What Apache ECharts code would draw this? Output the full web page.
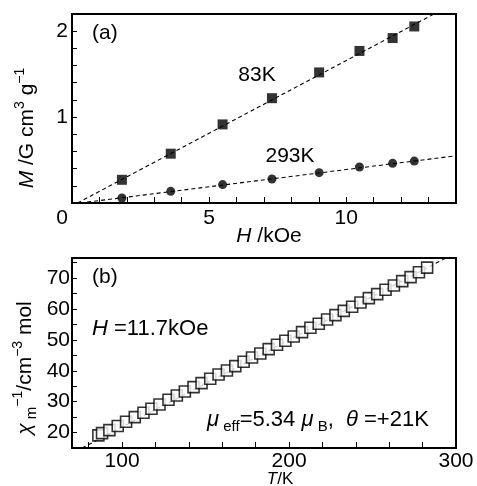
<!DOCTYPE html>
<html>
<head>
<meta charset="utf-8">
<script src="https://cdn.jsdelivr.net/npm/echarts@6/dist/echarts.min.js"></script>
<style>
  html, body { margin: 0; padding: 0; background: #fff; }
  #chart { width: 477px; height: 486px; }
</style>
</head>
<body>
<div id="chart"></div>
<script>
// ====== (a) M vs H ======
const hField = [1.82, 3.60, 5.49, 7.29, 9.01, 10.48, 11.69, 12.48]; // kOe
const m83K = [0.27, 0.574, 0.915, 1.22, 1.52, 1.77, 1.92, 2.055];
const m293K = [0.058, 0.136, 0.214, 0.279, 0.353, 0.419, 0.462, 0.488];
const fit83K = [[0.2, 0], [13.2, 2.2]];
const fit293K = [[0.3, 0], [14, 0.55]];
const hTicks = [1, 2, 3, 4, 5, 6, 7, 8, 9, 10, 11, 12, 13];
const hLabels = [0, 5, 10];
const mTicks = [0.2, 0.4, 0.6, 0.8, 1.0, 1.2, 1.4, 1.6, 1.8, 2.0];
const mLabels = [1, 2];

// ====== (b) 1/chi vs T ======
const tempK = [85.8, 88.0, 92.4, 97.4, 102.4, 107.6, 112.8, 117.6, 122.4, 127.8,
  132.8, 137.6, 142.8, 147.6, 152.8, 157.8, 162.8, 167.8, 172.8, 177.8,
  182.8, 187.8, 192.8, 197.8, 202.8, 207.8, 212.8, 217.8, 222.8, 227.8,
  232.8, 237.8, 242.8, 247.8, 252.8, 257.8, 262.8, 267.8, 272.8, 277.8, 282.7];
const invChi = [19.1, 19.8, 20.8, 22.1, 23.5, 25.0, 26.4, 27.7, 29.1, 30.6,
  32.0, 33.3, 34.7, 36.0, 37.4, 38.8, 40.1, 41.5, 42.9, 44.3,
  45.6, 47.0, 48.4, 49.7, 51.1, 52.5, 53.9, 55.2, 56.6, 58.0,
  59.4, 60.7, 62.1, 63.5, 64.8, 66.2, 67.6, 69.0, 70.3, 71.9, 73.4];
const fitChi = [[76, 15], [294, 76.5]];
const tTicks = [80, 100, 120, 140, 160, 180, 200, 220, 240, 260, 280];
const tLabels = [100, 200, 300];
const chiTicks = [20, 25, 30, 35, 40, 45, 50, 55, 60, 65, 70, 75];
const chiLabels = [20, 30, 40, 50, 60, 70];

const FONT = 'Liberation Sans, Arial, Helvetica, sans-serif';

function zip(xs, ys) {
  return xs.map(function (x, i) { return [x, ys[i]]; });
}

// rich text pieces for graphic texts (zrender style -> fill)
function richSet(size) {
  return {
    n: { fontSize: size, fontFamily: FONT, fill: '#000', lineHeight: 28 },
    i: { fontSize: size, fontFamily: FONT, fill: '#000', fontStyle: 'italic', lineHeight: 28 },
    sup: { fontSize: 14, fontFamily: FONT, fill: '#000', lineHeight: 14, verticalAlign: 'top' },
    sub: { fontSize: 15, fontFamily: FONT, fill: '#000', lineHeight: 16, verticalAlign: 'bottom' },
    sm: { fontSize: 15, fontFamily: FONT, fill: '#000', lineHeight: 18, verticalAlign: 'bottom' }
  };
}

function label(x, y, text, opts) {
  opts = opts || {};
  return {
    type: 'text',
    x: x,
    y: y,
    rotation: opts.rotation || 0,
    silent: true,
    style: {
      text: text,
      rich: richSet(opts.size || 21),
      font: (opts.size || 21) + 'px ' + FONT,
      fill: '#000',
      align: opts.align || 'left',
      verticalAlign: 'middle'
    }
  };
}

function xAxisOf(grid, min, max, ticks, labels, margin) {
  return {
    type: 'value',
    gridIndex: grid,
    min: min,
    max: max,
    axisLine: { show: false },
    splitLine: { show: false },
    axisTick: { inside: true, length: 6, customValues: ticks, lineStyle: { color: '#000', width: 1 } },
    axisLabel: {
      customValues: labels, fontSize: 21, fontFamily: FONT, color: '#000', margin: margin,
      // the origin "0" sits a little left of the corner in the original
      formatter: function (v) { return v === 0 ? '{o|0}' : String(v); },
      rich: { o: { fontSize: 21, fontFamily: FONT, color: '#000', padding: [0, 20, 0, 0] } }
    }
  };
}

function yAxisOf(grid, min, max, ticks, labels, margin) {
  return {
    type: 'value',
    gridIndex: grid,
    min: min,
    max: max,
    axisLine: { show: false },
    splitLine: { show: false },
    axisTick: { inside: true, length: 5, customValues: ticks, lineStyle: { color: '#000', width: 1 } },
    axisLabel: { customValues: labels, fontSize: 21, fontFamily: FONT, color: '#000', margin: margin }
  };
}

const dashed = { color: '#000', width: 1.1, type: [4, 3] };

const chart = echarts.init(document.getElementById('chart'));
chart.setOption({
  animation: false,
  backgroundColor: '#fff',
  grid: [
    { left: 72, top: 14, width: 384, height: 189, show: true, borderColor: '#000', borderWidth: 2, backgroundColor: 'transparent' },
    { left: 72, top: 258, width: 384, height: 190, show: true, borderColor: '#000', borderWidth: 2, backgroundColor: 'transparent' }
  ],
  xAxis: [
    xAxisOf(0, 0, 14, hTicks, hLabels, 5),
    xAxisOf(1, 70, 300, tTicks, tLabels, 3)
  ],
  yAxis: [
    yAxisOf(0, 0, 2.2, mTicks, mLabels, 4),
    yAxisOf(1, 15, 76.5, chiTicks, chiLabels, 2)
  ],
  series: [
    { type: 'line', xAxisIndex: 0, yAxisIndex: 0, data: fit83K, showSymbol: false, lineStyle: dashed, z: 1 },
    { type: 'line', xAxisIndex: 0, yAxisIndex: 0, data: fit293K, showSymbol: false, lineStyle: dashed, z: 1 },
    {
      name: '83K', type: 'scatter', xAxisIndex: 0, yAxisIndex: 0,
      data: zip(hField, m83K), symbol: 'rect', symbolSize: 10,
      itemStyle: { color: '#000' }, z: 3
    },
    {
      name: '293K', type: 'scatter', xAxisIndex: 0, yAxisIndex: 0,
      data: zip(hField, m293K), symbol: 'circle', symbolSize: 9,
      itemStyle: { color: '#000' }, z: 3
    },
    { type: 'line', xAxisIndex: 1, yAxisIndex: 1, data: fitChi, showSymbol: false, lineStyle: dashed, z: 1 },
    {
      name: 'chi', type: 'scatter', xAxisIndex: 1, yAxisIndex: 1,
      data: zip(tempK, invChi), symbol: 'rect', symbolSize: 11,
      itemStyle: { color: '#fff', borderColor: '#000', borderWidth: 1.6 }, z: 3
    }
  ],
  graphic: [
    label(92, 33, '{n|(a)}'),
    label(257, 75, '{n|83K}', { align: 'center' }),
    label(290, 156, '{n|293K}', { align: 'center' }),
    label(269, 236, '{i|H}{n| /kOe}', { align: 'center' }),
    label(27, 128, '{i|M}{n| /G cm}{sup|3}{n| g}{sup|−1}', { align: 'center', rotation: Math.PI / 2 }),
    label(92, 277, '{n|(b)}'),
    label(92, 329, '{i|H}{n| =11.7kOe}', { size: 22 }),
    label(207, 420, '{i|μ}{sub| eff}{n|=5.34 }{i|μ}{sub| B}{n|,  }{i|θ}{n| =+21K}', { size: 22 }),
    label(25, 368, '{i|χ}{sm| m}{sup|−1}{n|/cm}{sup|−3}{n| mol}', { align: 'center', rotation: Math.PI / 2 }),
    label(280, 479, '{i|T}{n|/K}', { align: 'center', size: 17 })
  ]
});
</script>
</body>
</html>
